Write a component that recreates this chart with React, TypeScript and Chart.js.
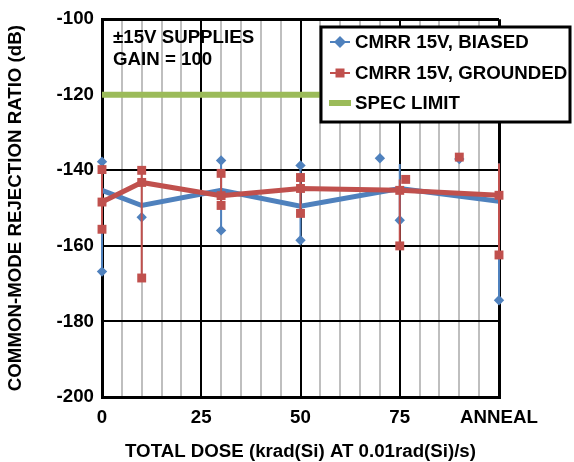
import React, { useEffect, useRef } from 'react';
import { Chart, registerables } from 'chart.js';

Chart.register(...registerables);

const FONT = '"Liberation Sans", Arial, Helvetica, sans-serif';
const FS = 18.7;
const BLUE = '#4F81BD';
const RED = '#C0504D';
const GREEN = '#9BBB59';
const GRAY = '#BFBFBF';

// ---- data ----
const doses = [0, 10, 30, 50, 75, 100];
const biasedMean = [-145.3, -149.3, -145.3, -149.5, -144.8, -148.2];
const groundedMean = [-148.4, -143.2, -146.7, -144.8, -145.3, -146.6];

const biasedUnitX = [0, 0, 10, 30, 30, 50, 50, 70, 75, 90, 100];
const biasedUnitY = [-137.7, -166.8, -152.4, -137.4, -155.9, -138.7, -158.5, -136.8, -153.2, -137.0, -174.4];
const groundedUnitX = [0, 0, 10, 10, 30, 30, 50, 50, 76.5, 75, 90, 100];
const groundedUnitY = [-139.8, -155.6, -140.0, -168.5, -140.8, -149.3, -141.9, -151.4, -142.4, -160.0, -136.5, -162.4];

const biasedRangeX = [0, 30, 50, 75, 100];
const biasedRangeHigh = [-137.7, -137.4, -138.7, -138.3, -138.2];
const biasedRangeLow = [-166.8, -155.9, -158.5, -153.2, -174.4];
const groundedRangeX = [0, 10, 30, 50, 75, 100];
const groundedRangeHigh = [-139.8, -140.0, -140.8, -141.9, -142.4, -138.2];
const groundedRangeLow = [-155.6, -168.5, -149.3, -151.4, -160.0, -162.4];

const specX = [0, 100];
const specY = [-120, -120];

const xTickLabels: Record<number, string> = { 0: '0', 25: '25', 50: '50', 75: '75', 100: 'ANNEAL' };
const seriesNames = ['CMRR 15V, BIASED', 'CMRR 15V, GROUNDED', 'SPEC LIMIT'];
const noteLines = ['\u00B115V SUPPLIES', 'GAIN = 100'];
const xTitle = 'TOTAL DOSE (krad(Si) AT 0.01rad(Si)/s)';
const yTitle = 'COMMON-MODE REJECTION RATIO (dB)';

const pts = (xs: number[], ys: number[]) => xs.map((x, i) => ({ x, y: ys[i] }));
const ranges = (xs: number[], hi: number[], lo: number[]) => {
  const out: { x: number; y: number | null }[] = [];
  xs.forEach((x, i) => {
    out.push({ x, y: hi[i] });
    out.push({ x, y: lo[i] });
    out.push({ x, y: null });
  });
  return out;
};

const overlayPlugin = {
  id: 'overlay',
  afterDraw(chart: any) {
    const ctx = chart.ctx as CanvasRenderingContext2D;
    ctx.save();
    ctx.font = `bold ${FS}px ${FONT}`;
    ctx.fillStyle = '#000';
    ctx.textBaseline = 'middle';
    ctx.textAlign = 'left';
    ctx.fillText(noteLines[0], 113, 38);
    ctx.fillText(noteLines[1], 113, 60);

    // legend box
    const bx = 321, by = 27, bw = 249, bh = 95;
    ctx.fillStyle = '#fff';
    ctx.fillRect(bx, by, bw, bh);
    ctx.lineWidth = 3;
    ctx.strokeStyle = '#000';
    ctx.strokeRect(bx, by, bw, bh);

    const rows = [42, 73, 103];
    // biased
    ctx.strokeStyle = BLUE;
    ctx.lineWidth = 2;
    ctx.beginPath(); ctx.moveTo(330, rows[0]); ctx.lineTo(350, rows[0]); ctx.stroke();
    ctx.fillStyle = BLUE;
    ctx.beginPath();
    ctx.moveTo(340, rows[0] - 6); ctx.lineTo(346, rows[0]); ctx.lineTo(340, rows[0] + 6); ctx.lineTo(334, rows[0]);
    ctx.closePath(); ctx.fill();
    // grounded
    ctx.strokeStyle = RED;
    ctx.beginPath(); ctx.moveTo(330, rows[1]); ctx.lineTo(350, rows[1]); ctx.stroke();
    ctx.fillStyle = RED;
    ctx.fillRect(335.5, rows[1] - 4.5, 9, 9);
    // spec
    ctx.strokeStyle = GREEN;
    ctx.lineWidth = 6;
    ctx.beginPath(); ctx.moveTo(329, rows[2]); ctx.lineTo(351, rows[2]); ctx.stroke();

    ctx.fillStyle = '#000';
    seriesNames.forEach((t, i) => ctx.fillText(t, 355, rows[i] + 1));
    ctx.restore();
  },
};

export default function App() {
  const ref = useRef<HTMLCanvasElement | null>(null);
  useEffect(() => {
    if (!ref.current) return;
    const chart = new Chart(ref.current, {
      type: 'scatter',
      data: {
        datasets: [
          {
            label: 'grounded-mean',
            data: pts(doses, groundedMean),
            showLine: true,
            borderColor: RED,
            backgroundColor: RED,
            borderWidth: 5,
            pointStyle: 'rect',
            pointRadius: 6.3,
            pointBorderWidth: 0,
            clip: false,
            order: 1,
          },
          {
            label: 'grounded-units',
            data: pts(groundedUnitX, groundedUnitY),
            showLine: false,
            backgroundColor: RED,
            borderColor: RED,
            pointStyle: 'rect',
            pointRadius: 6.3,
            pointBorderWidth: 0,
            clip: false,
            order: 2,
          },
          {
            label: 'grounded-range',
            data: ranges(groundedRangeX, groundedRangeHigh, groundedRangeLow),
            showLine: true,
            spanGaps: false,
            borderColor: RED,
            borderWidth: 2,
            pointRadius: 0,
            clip: false,
            order: 3,
          },
          {
            label: 'biased-mean',
            data: pts(doses, biasedMean),
            showLine: true,
            borderColor: BLUE,
            backgroundColor: BLUE,
            borderWidth: 5,
            pointRadius: 0,
            clip: false,
            order: 4,
          },
          {
            label: 'biased-units',
            data: pts(biasedUnitX, biasedUnitY),
            showLine: false,
            backgroundColor: BLUE,
            borderColor: BLUE,
            pointStyle: 'rectRot',
            pointRadius: 5.2,
            pointBorderWidth: 0,
            clip: false,
            order: 5,
          },
          {
            label: 'biased-range',
            data: ranges(biasedRangeX, biasedRangeHigh, biasedRangeLow),
            showLine: true,
            spanGaps: false,
            borderColor: BLUE,
            borderWidth: 2,
            pointRadius: 0,
            clip: false,
            order: 6,
          },
          {
            label: 'spec',
            data: pts(specX, specY),
            showLine: true,
            borderColor: GREEN,
            borderWidth: 6,
            pointRadius: 0,
            order: 7,
          },
        ],
      },
      options: {
        responsive: false,
        animation: false,
        devicePixelRatio: 1,
        layout: { padding: { left: 0, right: 75, top: 17, bottom: 0 } },
        plugins: { legend: { display: false }, tooltip: { enabled: false } },
        scales: {
          x: {
            type: 'linear',
            min: 0,
            max: 100,
            afterFit: (s: any) => { s.height = 65; },
            ticks: {
              stepSize: 5,
              autoSkip: false,
              maxRotation: 0,
              padding: 10,
              color: '#000',
              font: { family: FONT, size: FS, weight: 'bold' },
              callback: (v: any) => (xTickLabels[v as number] ?? ''),
            },
            grid: {
              drawTicks: false,
              color: (c: any) => (c.tick && c.tick.value % 25 === 0 ? '#000' : GRAY),
              lineWidth: (c: any) => (c.tick && (c.tick.value === 0 || c.tick.value === 100) ? 3 : 2),
            },
            border: { display: true, color: '#000', width: 3 },
            title: {
              display: true,
              text: xTitle,
              color: '#000',
              padding: { top: 0, bottom: -1 },
              font: { family: FONT, size: FS, weight: 'bold' },
            },
          },
          y: {
            type: 'linear',
            min: -200,
            max: -100,
            afterFit: (s: any) => { s.width = 102; },
            ticks: {
              stepSize: 20,
              padding: 8,
              color: '#000',
              font: { family: FONT, size: FS, weight: 'bold' },
              callback: (v: any) => String(v),
            },
            grid: {
              drawTicks: false,
              color: '#000',
              lineWidth: (c: any) => (c.tick && (c.tick.value === -100 || c.tick.value === -200) ? 3 : 2),
            },
            border: { display: true, color: '#000', width: 3 },
            title: {
              display: true,
              text: yTitle,
              color: '#000',
              padding: { top: 5, bottom: 0 },
              font: { family: FONT, size: FS, weight: 'bold' },
            },
          },
        },
      },
      plugins: [overlayPlugin],
    } as any);
    return () => chart.destroy();
  }, []);

  return (
    <div style={{ position: 'absolute', left: 0, top: 0, width: 574, height: 462, background: '#fff' }}>
      <canvas ref={ref} width={574} height={462} />
    </div>
  );
}
